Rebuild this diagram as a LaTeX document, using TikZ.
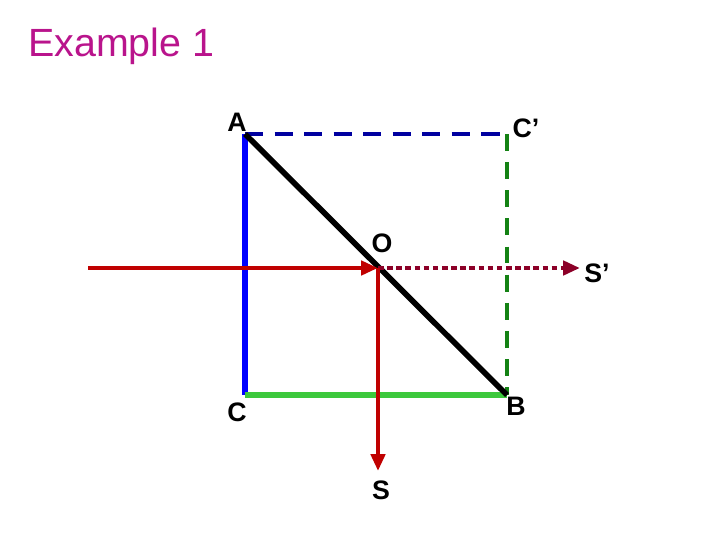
\documentclass[tikz,border=0pt]{standalone}
\usepackage{fontspec}
\setmainfont{Liberation Sans}
\usepackage{xcolor}
\usetikzlibrary{arrows.meta,positioning}

\definecolor{titlemag}{RGB}{185,20,140}
\definecolor{raynavy}{RGB}{0,0,160}
\definecolor{raygreen}{RGB}{20,130,20}
\definecolor{raylime}{RGB}{60,200,60}
\definecolor{rayred}{RGB}{192,0,0}
\definecolor{raymaroon}{RGB}{140,0,40}

\begin{document}
\begin{tikzpicture}[x=0.025cm, y=-0.025cm, >={Triangle[length=12pt,width=10pt]},
    lbl/.style={inner sep=0pt, font=\fontsize{19}{22}\selectfont\bfseries}]
    \useasboundingbox (0,0) rectangle (720,540);
    \node[text=titlemag, font=\fontsize{28}{32}\selectfont, anchor=west, inner sep=0pt] (title) at (28,46) {Example 1};
    \coordinate (A) at (245,134);
    \coordinate (Cp) at (507,134);
    \coordinate (C) at (245,395);
    \coordinate (B) at (507,395);
    \coordinate (O) at (378,268);
    \coordinate (in) at (88,268);
    \coordinate (S) at (378,471);
    \coordinate (Sp) at (580,268);
    \draw[raynavy, line width=3.5pt, dash pattern=on 13pt off 8pt] (A) -- (Cp);
    \draw[raygreen, line width=3.5pt, dash pattern=on 12pt off 8pt] (Cp) -- (B);
    \draw[blue, line width=3.8pt] (A) -- (C);
    \draw[raylime, line width=3.8pt] (C) -- (B);
    \draw[black, line width=4pt] (A) -- (B);
    \draw[raymaroon, line width=3.5pt, dash pattern=on 4pt off 2.5pt, ->] (O) -- (Sp);
    \draw[rayred, line width=3pt, ->] (in) -- (O);
    \draw[rayred, line width=3pt, ->] (O) -- (S);
    \node[lbl] (lA) at (237,122) {A};
    \node[lbl] (lCp) at (526,128) {C’};
    \node[lbl] (lO) at (382,243) {O};
    \node[lbl] (lSp) at (597,273) {S’};
    \node[lbl] (lC) at (237,412) {C};
    \node[lbl] (lB) at (516,406) {B};
    \node[lbl] (lS) at (381,490) {S};
  \end{tikzpicture}
\end{document}
